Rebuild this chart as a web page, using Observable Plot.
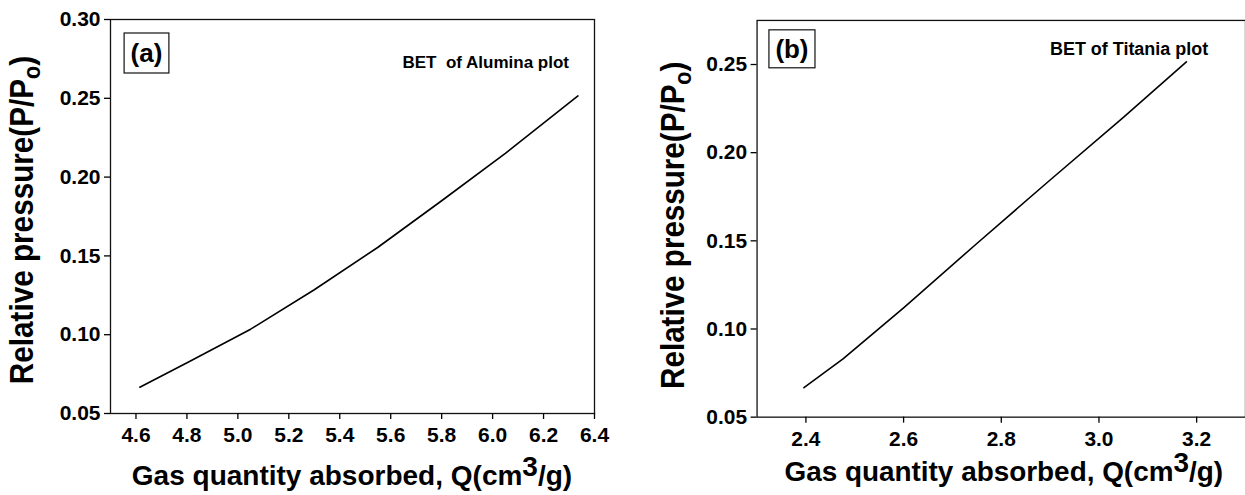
<!DOCTYPE html>
<html>
<head>
<meta charset="utf-8">
<script src="https://cdn.jsdelivr.net/npm/d3@7"></script>
<script src="https://cdn.jsdelivr.net/npm/@observablehq/plot@0.6"></script>
<style>
  html, body { margin: 0; padding: 0; background: #fff; }
  body { width: 1245px; height: 495px; overflow: hidden; position: relative;
         font-family: "Liberation Sans", Arial, sans-serif; }
  .panel { position: absolute; top: 0; }
  #panelA { left: 0; }
  #panelB { left: 620px; }
</style>
</head>
<body>
<div id="panelA" class="panel"></div>
<div id="panelB" class="panel"></div>
<script>
// ---- Data ----
const aluminaQ = [4.615, 4.81, 5.05, 5.30, 5.55, 5.80, 6.05, 6.335];
const aluminaP = [0.0667, 0.0830, 0.1035, 0.1285, 0.1555, 0.1850, 0.2150, 0.2515];
const titaniaQ = [2.396, 2.476, 2.60, 2.75, 2.90, 3.05, 3.179];
const titaniaP = [0.0667, 0.0830, 0.1120, 0.1485, 0.1845, 0.2200, 0.2515];

const aluminaXTicks = [4.6, 4.8, 5.0, 5.2, 5.4, 5.6, 5.8, 6.0, 6.2, 6.4];
const aluminaYTicks = [0.05, 0.10, 0.15, 0.20, 0.25, 0.30];
const titaniaXTicks = [2.4, 2.6, 2.8, 3.0, 3.2];
const titaniaYTicks = [0.05, 0.10, 0.15, 0.20, 0.25];

const aluminaXDomain = [4.5, 6.4];
const aluminaYDomain = [0.05, 0.30];
const titaniaXDomain = [2.3, 3.3];
const titaniaYDomain = [0.05, 0.275];

const panelTags = ["(a)", "(b)"];
const panelNotes = ["BET  of Alumina plot", "BET of Titania plot"];
const xTitleMain = "Gas quantity absorbed, Q(cm";
const xTitleSup = "3";
const xTitleEnd = "/g)";
const yTitleMain = "Relative pressure(P/P";
const yTitleSub = "o";
const yTitleEnd = ")";

const FONT = '"Liberation Sans", Arial, Helvetica, sans-serif';

function makePanel(cfg) {
  const data = cfg.Q.map((q, i) => ({Q: q, P: cfg.P[i]}));
  const svg = Plot.plot({
    width: cfg.width,
    height: 495,
    marginLeft: cfg.ml,
    marginRight: cfg.mr,
    marginTop: cfg.mt,
    marginBottom: cfg.mb,
    style: {fontFamily: FONT, fontSize: "21px", fontWeight: "bold", color: "#000", background: "transparent", overflow: "visible"},
    x: {domain: cfg.xDomain, label: null},
    y: {domain: cfg.yDomain, label: null},
    marks: [
      Plot.frame({stroke: "#111", strokeWidth: 1.3}),
      Plot.axisX({ticks: cfg.xTicks, tickFormat: d3.format(".1f"), tickSize: 6, tickPadding: 8, label: null, strokeWidth: 1.3, fontSize: 21, fontWeight: "bold"}),
      Plot.axisY({ticks: cfg.yTicks, tickFormat: d3.format(".2f"), tickSize: 6, tickPadding: 4, label: null, strokeWidth: 1.3, fontSize: 21, fontWeight: "bold"}),
      Plot.line(data, {x: "Q", y: "P", stroke: "#000", strokeWidth: 1.6})
    ]
  });
  document.getElementById(cfg.id).appendChild(svg);
  const s = d3.select(svg);
  const plotLeft = cfg.ml, plotRight = cfg.width - cfg.mr;

  // x axis title
  const xt = s.append("text")
    .attr("x", cfg.xTitleX ?? (plotLeft + plotRight) / 2)
    .attr("y", cfg.xTitleY)
    .attr("text-anchor", "middle")
    .style("font-family", FONT).style("font-size", "28px").style("font-weight", "bold").attr("fill", "#000");
  xt.append("tspan").text(xTitleMain);
  xt.append("tspan").attr("dy", -9).text(xTitleSup);
  xt.append("tspan").attr("dy", 9).text(xTitleEnd);

  // y axis title
  const yt = s.append("text")
    .attr("transform", `translate(${cfg.yTitleX},${cfg.yTitleY}) rotate(-90) scale(0.9,1)`)
    .attr("text-anchor", "middle")
    .style("font-family", FONT).style("font-size", "33px").style("font-weight", "bold").attr("fill", "#000");
  yt.append("tspan").text(yTitleMain);
  yt.append("tspan").attr("dy", 7).style("font-size", "24px").text(yTitleSub);
  yt.append("tspan").attr("dy", -7).text(yTitleEnd);

  // panel tag with box
  const tag = s.append("text")
    .attr("x", cfg.tagX).attr("y", cfg.tagY)
    .attr("text-anchor", "middle")
    .style("font-family", FONT).style("font-size", "26px").style("font-weight", "bold").attr("fill", "#000")
    .text(cfg.tag);
  const bb = tag.node().getBBox();
  s.insert("rect", () => tag.node())
    .attr("x", bb.x - 6.5).attr("y", bb.y - 5).attr("width", bb.width + 13).attr("height", bb.height + 10)
    .attr("fill", "#fff").attr("stroke", "#111").attr("stroke-width", 1.2);

  // note
  s.append("text")
    .attr("x", cfg.noteX).attr("y", cfg.noteY)
    .attr("text-anchor", "end")
    .style("white-space", "pre")
    .attr("xml:space", "preserve")
    .style("font-family", FONT).style("font-size", cfg.noteSize).style("font-weight", "bold").attr("fill", "#000")
    .text(cfg.note);
}

makePanel({
  id: "panelA", Q: aluminaQ, P: aluminaP,
  xDomain: aluminaXDomain, yDomain: aluminaYDomain, xTicks: aluminaXTicks, yTicks: aluminaYTicks,
  width: 620, ml: 110, mr: 26, mt: 19, mb: 82,
  xTitleY: 485, yTitleX: 33, yTitleY: 220,
  tag: panelTags[0], tagX: 146.5, tagY: 62,
  note: panelNotes[0], noteX: 569, noteY: 68, noteSize: "17px"
});

makePanel({
  id: "panelB", Q: titaniaQ, P: titaniaP,
  xDomain: titaniaXDomain, yDomain: titaniaYDomain, xTicks: titaniaXTicks, yTicks: titaniaYTicks,
  width: 627, ml: 137, mr: 0, mt: 20, mb: 77,
  xTitleY: 483, xTitleX: 385, yTitleX: 64, yTitleY: 226,
  tag: panelTags[1], tagX: 172.5, tagY: 58,
  note: panelNotes[1], noteX: 590, noteY: 55, noteSize: "18px"
});
</script>
</body>
</html>
